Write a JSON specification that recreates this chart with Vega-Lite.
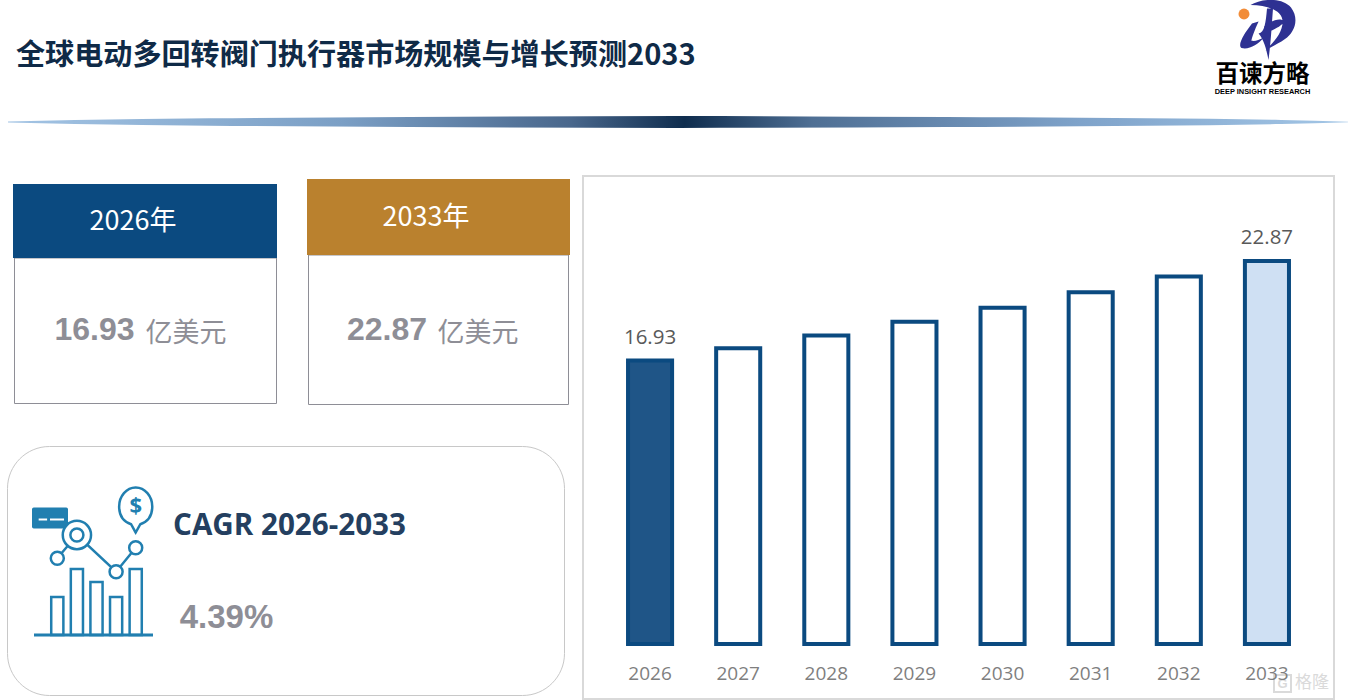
{"$schema":"https://vega.github.io/schema/vega-lite/v6.json","width":1348,"height":700,"padding":0,"autosize":{"type":"none"},"background":"#ffffff","view":{"stroke":null},
"title":{"text":"全球电动多回转阀门执行器市场规模与增长预测2033","anchor":"start","frame":"group","dx":16,"dy":29,"offset":-65,"baseline":"alphabetic","font":"Noto Sans CJK SC","fontSize":29.1,"fontWeight":700,"color":"#0F2A47"},
"datasets":{
"labels":[{"text":"百谏方略"},{"text":"DEEP INSIGHT RESEARCH"},{"text":"2026年"},{"text":"2033年"},{"text":"16.93"},{"text":"22.87"},{"text":"亿美元"},{"text":"CAGR 2026-2033"},{"text":"4.39%"},{"text":"格隆"},{"text":"G"},{"text":"logo"},{"text":"dot"},{"text":"panel"},{"text":"card"}],
"ribbon":[{"p":0,"up":0.4,"down":-0.4},{"p":5,"up":2,"down":-2},{"p":15,"up":3.7,"down":-3.7},{"p":30,"up":5,"down":-5},{"p":50,"up":6,"down":-6},{"p":70,"up":5,"down":-5},{"p":85,"up":3.7,"down":-3.7},{"p":95,"up":2,"down":-2},{"p":100,"up":0.3,"down":-0.3}],
"market":[{"year":"2026","value":16.93},{"year":"2027","value":17.65},{"year":"2028","value":18.42},{"year":"2029","value":19.24},{"year":"2030","value":20.08},{"year":"2031","value":21.0},{"year":"2032","value":21.94},{"year":"2033","value":22.87}],
"icon":[{"slot":"a","bar":38,"node":76.7},{"slot":"b","bar":66,"node":100},{"slot":"c","bar":53},{"slot":"d","bar":38,"node":63.3},{"slot":"e","bar":66,"node":87.3,"pin":125,"sign":"$"}]
},
"resolve":{"scale":{"x":"independent","y":"independent","fill":"independent"},"axis":{"x":"independent","y":"independent"}},
"layer":[
{"data":{"name":"ribbon"},"mark":{"type":"area","interpolate":"monotone","color":{"gradient":"linear","x1":0,"x2":1,"y1":0,"y2":0,"stops":[{"offset":0,"color":"#A3C4E4"},{"offset":0.25,"color":"#7B9FC5"},{"offset":0.42,"color":"#49678C"},{"offset":0.505,"color":"#0F2D4E"},{"offset":0.6,"color":"#4F6F94"},{"offset":0.8,"color":"#7FA3CA"},{"offset":1,"color":"#A3C6E6"}]}},"encoding":{"x":{"field":"p","type":"quantitative","scale":{"domain":[0,100],"range":[8,1348]},"axis":null},"y":{"field":"up","type":"quantitative","scale":{"domain":[6,-6],"range":[116,128]},"axis":null},"y2":{"field":"down"}}},
{"data":{"name":"labels"},"transform":[{"filter":{"field":"text","equal":"logo"}}],"mark":{"type":"point","filled":true,"color":"#2E3192","opacity":1,"size":3600,"shape":"M-.55-.83C-.2-1.05.5-1.1.8-.75C1.1-.35.9.1.6.3C.4.45.15.55-.05.68C.25.38.5.1.52-.25C.54-.62.1-.82-.55-.83ZM.0-.72L.2-.72C.16-.2.13.4.05 1C-.03.6-.1.35-.28.12C-.08.08-.04-.25.0-.72ZM-.1-.12C.15-.32.42-.42.58-.3C.5-.12.2 0-.08.12ZM-.5-.22L-.28-.28C-.42.02-.5.25-.52.36C-.38.38-.28.34-.12.26C-.3.5-.6.66-.85.6C-1 .5-.75.1-.5-.22Z"},"encoding":{"x":{"field":"text","type":"nominal","scale":{"type":"band","range":[1237,1297]},"axis":null},"y":{"field":"text","type":"nominal","scale":{"type":"band","range":[0,60]},"axis":null}}},
{"data":{"name":"labels"},"transform":[{"filter":{"field":"text","equal":"dot"}}],"mark":{"type":"point","filled":true,"color":"#F28C38","opacity":1,"size":120},"encoding":{"x":{"field":"text","type":"nominal","scale":{"type":"band","range":[1238,1250]},"axis":null},"y":{"field":"text","type":"nominal","scale":{"type":"band","range":[8,20]},"axis":null}}},
{"data":{"name":"labels"},"transform":[{"filter":{"field":"text","equal":"百谏方略"}}],"mark":{"type":"text","font":"Noto Sans CJK SC","fontWeight":700,"fontSize":23.5,"color":"#000000","baseline":"middle"},"encoding":{"text":{"field":"text"},"x":{"field":"text","type":"nominal","scale":{"type":"band","range":[1215,1310]},"axis":null},"y":{"field":"text","type":"nominal","scale":{"type":"band","range":[65,85]},"axis":null}}},
{"data":{"name":"labels"},"transform":[{"filter":{"field":"text","equal":"DEEP INSIGHT RESEARCH"}}],"mark":{"type":"text","font":"Liberation Sans","fontWeight":700,"fontSize":7.4,"color":"#000000","baseline":"middle"},"encoding":{"text":{"field":"text"},"x":{"field":"text","type":"nominal","scale":{"type":"band","range":[1215,1310]},"axis":null},"y":{"field":"text","type":"nominal","scale":{"type":"band","range":[88,96]},"axis":null}}},

{"data":{"name":"labels"},"transform":[{"filter":{"field":"text","equal":"16.93"}}],"mark":{"type":"rect","fill":"#ffffff","stroke":"#8E8E96","strokeWidth":1},"encoding":{"x":{"field":"text","type":"nominal","scale":{"type":"band","range":[14.5,276.5],"paddingInner":0,"paddingOuter":0},"axis":null},"y":{"field":"text","type":"nominal","scale":{"type":"band","range":[258,403.5],"paddingInner":0,"paddingOuter":0},"axis":null}}},
{"data":{"name":"labels"},"transform":[{"filter":{"field":"text","equal":"22.87"}}],"mark":{"type":"rect","fill":"#ffffff","stroke":"#8E8E96","strokeWidth":1},"encoding":{"x":{"field":"text","type":"nominal","scale":{"type":"band","range":[308.5,568.5],"paddingInner":0,"paddingOuter":0},"axis":null},"y":{"field":"text","type":"nominal","scale":{"type":"band","range":[255,404.5],"paddingInner":0,"paddingOuter":0},"axis":null}}},
{"data":{"name":"labels"},"transform":[{"filter":{"field":"text","equal":"2026年"}}],"mark":{"type":"rect","fill":"#0B4A80"},"encoding":{"x":{"field":"text","type":"nominal","scale":{"type":"band","range":[13,277],"paddingInner":0,"paddingOuter":0},"axis":null},"y":{"field":"text","type":"nominal","scale":{"type":"band","range":[184,258],"paddingInner":0,"paddingOuter":0},"axis":null}}},
{"data":{"name":"labels"},"transform":[{"filter":{"field":"text","equal":"2033年"}}],"mark":{"type":"rect","fill":"#BA812E"},"encoding":{"x":{"field":"text","type":"nominal","scale":{"type":"band","range":[307,570],"paddingInner":0,"paddingOuter":0},"axis":null},"y":{"field":"text","type":"nominal","scale":{"type":"band","range":[179,255],"paddingInner":0,"paddingOuter":0},"axis":null}}},
{"data":{"name":"labels"},"transform":[{"filter":{"field":"text","equal":"2026年"}}],"mark":{"type":"text","font":"Noto Sans CJK SC","fontSize":27,"color":"#ffffff","baseline":"middle"},"encoding":{"text":{"field":"text"},"x":{"field":"text","type":"nominal","scale":{"type":"band","range":[90,176]},"axis":null},"y":{"field":"text","type":"nominal","scale":{"type":"band","range":[208,236]},"axis":null}}},
{"data":{"name":"labels"},"transform":[{"filter":{"field":"text","equal":"2033年"}}],"mark":{"type":"text","font":"Noto Sans CJK SC","fontSize":27,"color":"#ffffff","baseline":"middle"},"encoding":{"text":{"field":"text"},"x":{"field":"text","type":"nominal","scale":{"type":"band","range":[383,469]},"axis":null},"y":{"field":"text","type":"nominal","scale":{"type":"band","range":[204,232]},"axis":null}}},
{"data":{"name":"labels"},"transform":[{"filter":{"field":"text","equal":"16.93"}}],"mark":{"type":"text","font":"Liberation Sans","fontWeight":700,"fontSize":32,"color":"#8E8E96","baseline":"middle"},"encoding":{"text":{"field":"text"},"x":{"field":"text","type":"nominal","scale":{"type":"band","range":[55,134]},"axis":null},"y":{"field":"text","type":"nominal","scale":{"type":"band","range":[314,346]},"axis":null}}},
{"data":{"name":"labels"},"transform":[{"filter":{"field":"text","equal":"22.87"}}],"mark":{"type":"text","font":"Liberation Sans","fontWeight":700,"fontSize":32,"color":"#8E8E96","baseline":"middle"},"encoding":{"text":{"field":"text"},"x":{"field":"text","type":"nominal","scale":{"type":"band","range":[347,427]},"axis":null},"y":{"field":"text","type":"nominal","scale":{"type":"band","range":[314,346]},"axis":null}}},
{"data":{"name":"labels"},"transform":[{"filter":{"field":"text","equal":"亿美元"}}],"mark":{"type":"text","font":"Noto Sans CJK SC","fontSize":27,"color":"#8E8E96","baseline":"middle"},"encoding":{"text":{"field":"text"},"x":{"field":"text","type":"nominal","scale":{"type":"band","range":[146,226]},"axis":null},"y":{"field":"text","type":"nominal","scale":{"type":"band","range":[318,350]},"axis":null}}},
{"data":{"name":"labels"},"transform":[{"filter":{"field":"text","equal":"亿美元"}}],"mark":{"type":"text","font":"Noto Sans CJK SC","fontSize":27,"color":"#8E8E96","baseline":"middle"},"encoding":{"text":{"field":"text"},"x":{"field":"text","type":"nominal","scale":{"type":"band","range":[438,518]},"axis":null},"y":{"field":"text","type":"nominal","scale":{"type":"band","range":[318,350]},"axis":null}}},

{"data":{"name":"labels"},"transform":[{"filter":{"field":"text","equal":"panel"}}],"mark":{"type":"rect","fill":"#ffffff","stroke":"#C8C8C8","strokeWidth":1,"cornerRadius":42},"encoding":{"x":{"field":"text","type":"nominal","scale":{"type":"band","range":[7.5,564.5],"paddingInner":0,"paddingOuter":0},"axis":null},"y":{"field":"text","type":"nominal","scale":{"type":"band","range":[446.5,695.5],"paddingInner":0,"paddingOuter":0},"axis":null}}},
{"data":{"name":"labels"},"transform":[{"filter":{"field":"text","equal":"CAGR 2026-2033"}}],"mark":{"type":"text","font":"Open Sans","fontWeight":700,"fontSize":29.6,"color":"#243F60","baseline":"middle"},"encoding":{"text":{"field":"text"},"x":{"field":"text","type":"nominal","scale":{"type":"band","range":[173,406]},"axis":null},"y":{"field":"text","type":"nominal","scale":{"type":"band","range":[511,541]},"axis":null}}},
{"data":{"name":"labels"},"transform":[{"filter":{"field":"text","equal":"4.39%"}}],"mark":{"type":"text","font":"Liberation Sans","fontWeight":700,"fontSize":33,"color":"#8E8E96","baseline":"middle"},"encoding":{"text":{"field":"text"},"x":{"field":"text","type":"nominal","scale":{"type":"band","range":[180,273]},"axis":null},"y":{"field":"text","type":"nominal","scale":{"type":"band","range":[602,634]},"axis":null}}},
{"data":{"name":"labels"},"transform":[{"filter":{"field":"text","equal":"card"}}],"mark":{"type":"point","filled":true,"color":"#217FB0","opacity":1,"size":1296,"shape":"M-.9-.58H.9Q1-.58 1-.48V.48Q1 .58.9.58H-.9Q-1 .58-1 .48V-.48Q-1-.58-.9-.58ZM-.63.03V.14H-.16V.03ZM0 .03V.14H.78V.03Z"},"encoding":{"x":{"field":"text","type":"nominal","scale":{"type":"band","range":[32,68]},"axis":null},"y":{"field":"text","type":"nominal","scale":{"type":"band","range":[507,529]},"axis":null}}},
{"data":{"name":"icon"},"mark":{"type":"bar","fill":"#ffffff","stroke":"#217FB0","strokeWidth":2.5,"width":{"band":0.62}},"encoding":{"x":{"field":"slot","type":"nominal","scale":{"type":"band","range":[47.5,145.5],"paddingInner":0,"paddingOuter":0},"axis":null},"y":{"field":"bar","type":"quantitative","scale":{"domain":[0,140],"range":[635,495]},"axis":null}}},
{"data":{"name":"labels"},"transform":[{"filter":{"field":"text","equal":"panel"}}],"mark":{"type":"rect","fill":"#217FB0"},"encoding":{"x":{"field":"text","type":"nominal","scale":{"type":"band","range":[34,153],"paddingInner":0,"paddingOuter":0},"axis":null},"y":{"field":"text","type":"nominal","scale":{"type":"band","range":[633.5,636.5],"paddingInner":0,"paddingOuter":0},"axis":null}}},
{"data":{"name":"icon"},"transform":[{"filter":"isValid(datum.node)"}],"mark":{"type":"line","color":"#217FB0","strokeWidth":2.5},"encoding":{"x":{"field":"slot","type":"nominal","scale":{"type":"point","padding":0,"domain":["a","b","c","d","e"],"range":[57.3,135.7]},"axis":null},"y":{"field":"node","type":"quantitative","scale":{"domain":[0,140],"range":[635,495]},"axis":null}}},
{"data":{"name":"icon"},"transform":[{"filter":"isValid(datum.node) && datum.slot != 'b'"}],"mark":{"type":"point","filled":true,"fill":"#ffffff","stroke":"#217FB0","strokeWidth":2.5,"opacity":1,"size":170},"encoding":{"x":{"field":"slot","type":"nominal","scale":{"type":"point","padding":0,"domain":["a","b","c","d","e"],"range":[57.3,135.7]},"axis":null},"y":{"field":"node","type":"quantitative","scale":{"domain":[0,140],"range":[635,495]},"axis":null}}},
{"data":{"name":"icon"},"transform":[{"filter":"datum.slot == 'b'"}],"mark":{"type":"point","filled":true,"fill":"#ffffff","stroke":"#217FB0","strokeWidth":2.5,"opacity":1,"size":800},"encoding":{"x":{"field":"slot","type":"nominal","scale":{"type":"point","padding":0,"domain":["a","b","c","d","e"],"range":[57.3,135.7]},"axis":null},"y":{"field":"node","type":"quantitative","scale":{"domain":[0,140],"range":[635,495]},"axis":null}}},
{"data":{"name":"icon"},"transform":[{"filter":"datum.slot == 'b'"}],"mark":{"type":"point","filled":true,"fill":"#ffffff","stroke":"#217FB0","strokeWidth":2.5,"opacity":1,"size":170},"encoding":{"x":{"field":"slot","type":"nominal","scale":{"type":"point","padding":0,"domain":["a","b","c","d","e"],"range":[57.3,135.7]},"axis":null},"y":{"field":"node","type":"quantitative","scale":{"domain":[0,140],"range":[635,495]},"axis":null}}},
{"data":{"name":"icon"},"transform":[{"filter":"isValid(datum.pin)"}],"mark":{"type":"point","filled":true,"fill":"#ffffff","stroke":"#217FB0","strokeWidth":2.5,"opacity":1,"size":2116,"shape":"M0 .98L-.2.62C-.55.5-.72.2-.72-.15C-.72-.6-.4-.98 0-.98C.4-.98.72-.6.72-.15C.72.2.55.5.2.62Z"},"encoding":{"x":{"field":"slot","type":"nominal","scale":{"type":"point","padding":0,"domain":["a","b","c","d","e"],"range":[57.3,135.7]},"axis":null},"y":{"field":"pin","type":"quantitative","scale":{"domain":[0,140],"range":[635,495]},"axis":null}}},
{"data":{"name":"icon"},"transform":[{"filter":"isValid(datum.pin)"}],"mark":{"type":"text","font":"Open Sans","fontWeight":700,"fontSize":22,"color":"#217FB0","baseline":"middle","dy":-4},"encoding":{"text":{"field":"sign"},"x":{"field":"slot","type":"nominal","scale":{"type":"point","padding":0,"domain":["a","b","c","d","e"],"range":[57.3,135.7]},"axis":null},"y":{"field":"pin","type":"quantitative","scale":{"domain":[0,140],"range":[635,495]},"axis":null}}},

{"data":{"name":"labels"},"transform":[{"filter":{"field":"text","equal":"card"}}],"mark":{"type":"rect","fill":"#ffffff","stroke":"#D9D9D9","strokeWidth":2},"encoding":{"x":{"field":"text","type":"nominal","scale":{"type":"band","range":[583,1334],"paddingInner":0,"paddingOuter":0},"axis":null},"y":{"field":"text","type":"nominal","scale":{"type":"band","range":[176,699],"paddingInner":0,"paddingOuter":0},"axis":null}}},
{"data":{"name":"market"},"layer":[
{"mark":{"type":"bar","stroke":"#0B4A80","strokeWidth":4,"width":{"band":0.5}},"encoding":{"fill":{"field":"year","type":"nominal","scale":{"domain":["2026","2027","2028","2029","2030","2031","2032","2033"],"range":["#1F5587","#ffffff","#ffffff","#ffffff","#ffffff","#ffffff","#ffffff","#CFE0F3"]},"legend":null}}},
{"transform":[{"filter":{"field":"year","oneOf":["2026","2033"]}}],"mark":{"type":"text","font":"Open Sans","fontSize":20.5,"color":"#595959","baseline":"middle","dy":-22.5},"encoding":{"text":{"field":"value","type":"quantitative","format":".2f"}}}
],"encoding":{"x":{"field":"year","type":"nominal","scale":{"type":"band","range":[606,1311],"paddingInner":0,"paddingOuter":0},"axis":{"title":null,"orient":"bottom","offset":-36,"zindex":1,"domain":false,"ticks":false,"labelAngle":0,"labelPadding":0,"labelFont":"Open Sans","labelFontSize":19,"labelColor":"#7F7F7F","grid":false}},"y":{"field":"value","type":"quantitative","scale":{"domain":[0,27.94],"range":[644,176]},"axis":null}}},
{"data":{"name":"labels"},"transform":[{"filter":{"field":"text","equal":"G"}}],"mark":{"type":"point","shape":"square","stroke":"#DADADA","strokeWidth":2,"filled":false,"opacity":1,"size":290},"encoding":{"x":{"field":"text","type":"nominal","scale":{"type":"band","range":[1273,1292]},"axis":null},"y":{"field":"text","type":"nominal","scale":{"type":"band","range":[675,692]},"axis":null}}},
{"data":{"name":"labels"},"transform":[{"filter":{"field":"text","equal":"G"}}],"mark":{"type":"text","font":"Liberation Sans","fontWeight":700,"fontSize":13,"color":"#DADADA","baseline":"middle"},"encoding":{"text":{"field":"text"},"x":{"field":"text","type":"nominal","scale":{"type":"band","range":[1273,1292]},"axis":null},"y":{"field":"text","type":"nominal","scale":{"type":"band","range":[675,692]},"axis":null}}},
{"data":{"name":"labels"},"transform":[{"filter":{"field":"text","equal":"格隆"}}],"mark":{"type":"text","font":"Noto Sans CJK SC","fontSize":17,"color":"#DADADA","baseline":"middle"},"encoding":{"text":{"field":"text"},"x":{"field":"text","type":"nominal","scale":{"type":"band","range":[1295,1329]},"axis":null},"y":{"field":"text","type":"nominal","scale":{"type":"band","range":[673,693]},"axis":null}}}
]}
